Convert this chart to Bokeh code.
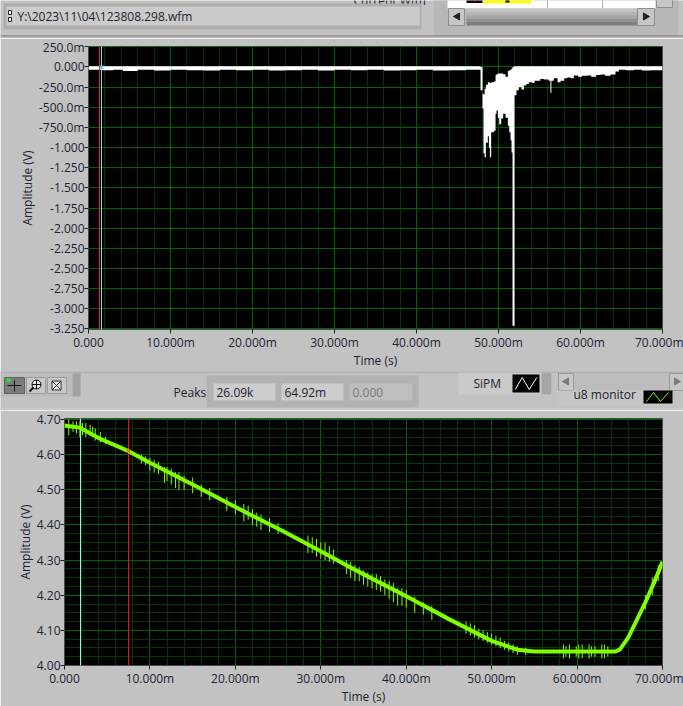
from bokeh.plotting import figure
from bokeh.layouts import column
from bokeh.models import Range1d, FixedTicker
from bokeh.core.properties import value
from bokeh.embed import file_html
from bokeh.resources import INLINE

# ---------- data ----------
FILE_PATH = "Y:\\2023\\11\\04\\123808.298.wfm"
PEAK_VALUES = ["26.09k", "64.92m", "0.000"]

top_x_ticks = [0, 10, 20, 30, 40, 50, 60, 70]
top_x_labels = ["0.000", "10.000m", "20.000m", "30.000m", "40.000m", "50.000m", "60.000m", "70.000m"]
top_x_minor = [2, 4, 6, 8, 12, 14, 16, 18, 22, 24, 26, 28, 32, 34, 36, 38, 42, 44, 46, 48, 52, 54, 56, 58, 62, 64, 66, 68]
top_y_ticks = [0.25, 0, -0.25, -0.5, -0.75, -1, -1.25, -1.5, -1.75, -2, -2.25, -2.5, -2.75, -3, -3.25]
top_y_labels = ["250.0m", "0.000", "-250.0m", "-500.0m", "-750.0m", "-1.000", "-1.250", "-1.500", "-1.750",
                "-2.000", "-2.250", "-2.500", "-2.750", "-3.000", "-3.250"]

bot_x_ticks = [0, 10, 20, 30, 40, 50, 60, 70]
bot_y_ticks = [4.0, 4.1, 4.2, 4.3, 4.4, 4.5, 4.6, 4.7]
bot_y_labels = ["4.00", "4.10", "4.20", "4.30", "4.40", "4.50", "4.60", "4.70"]
bot_y_minor = [4.025, 4.05, 4.075, 4.125, 4.15, 4.175, 4.225, 4.25, 4.275, 4.325, 4.35, 4.375,
               4.425, 4.45, 4.475, 4.525, 4.55, 4.575, 4.625, 4.65, 4.675]

# SiPM trace envelope (ms, V)
env_t = [0, 1.5, 3, 4.2, 6, 8, 10, 12, 14, 16, 18, 20, 22, 24, 26, 28, 30, 32, 34, 36, 38, 40, 42, 44, 46,
         47.69, 47.81, 48.05, 48.17, 48.3, 48.46, 48.7, 48.83, 48.95, 49.11, 49.44, 49.64, 49.76, 49.92, 50.09,
         50.33, 50.57, 50.86, 51.14, 51.31, 51.47, 51.59, 51.71, 51.91, 51.95, 52.2, 52.48, 52.8, 53.09, 53.4,
         53.7, 54.11, 54.4, 54.72, 55.1, 55.53, 56.14, 56.75, 57.2, 57.57, 58.0, 58.38, 58.8, 59.19, 59.7, 60.2,
         60.82, 61.3, 61.9, 62.44, 63.0, 63.66, 64.27, 64.68, 65.5, 66.5, 67.5, 68.5, 70]
env_up = [0.01, 0.01, 0.01, 0.01, 0.01, 0.01, 0.01, 0.01, 0.01, 0.01, 0.01, 0.01, 0.01, 0.01, 0.01, 0.01, 0.01,
          0.01, 0.01, 0.01, 0.01, 0.01, 0.01, 0.01, 0.01,
          0.01, 0.0, -0.33, -0.34, -0.27, -0.22, -0.19, -0.19, -0.2, -0.19, -0.18, -0.1, -0.09, -0.08, -0.08,
          -0.08, -0.09, -0.12, -0.05, -0.04, -0.03, -0.02, 0.0, 0.01, 0.01, 0.01, 0.01, 0.01, 0.01, 0.01,
          0.01, 0.01, 0.01, 0.01, 0.01, 0.01, 0.01, 0.01, 0.01, 0.01, 0.01, 0.01, 0.01, 0.01, 0.01, 0.01,
          0.01, 0.01, 0.01, 0.01, 0.01, 0.01, 0.01, 0.01, 0.01, 0.01, 0.01, 0.01, 0.01]
env_lo = [-0.035, -0.04, -0.035, -0.05, -0.035, -0.045, -0.035, -0.04, -0.045, -0.035, -0.04, -0.035, -0.045, -0.04,
          -0.035, -0.045, -0.035, -0.04, -0.035, -0.045, -0.04, -0.035, -0.045, -0.04, -0.035,
          -0.035, -0.29, -0.515, -1.07, -1.12, -0.94, -0.86, -1.0, -1.12, -0.81, -0.79, -0.58, -0.54, -0.63, -0.71,
          -0.64, -0.58, -0.63, -0.73, -0.81, -0.91, -1.06, -3.21, -3.21, -0.35, -0.29, -0.25, -0.28, -0.23, -0.21,
          -0.19, -0.2, -0.17, -0.17, -0.15, -0.155, -0.17, -0.14, -0.19, -0.17, -0.14, -0.13, -0.14, -0.105, -0.12,
          -0.11, -0.105, -0.12, -0.1, -0.093, -0.11, -0.093, -0.056, -0.035, -0.04, -0.035, -0.045, -0.04, -0.035]
spike_top_t = [56.39]
spike_top_lo = [-0.32]

# u8 monitor trace (ms, V)
mon_t = [0, 1.8, 4.1, 7.5, 10, 15, 19, 21.7, 25.6, 30, 33.4, 38.5, 40, 45, 50, 53, 55, 60, 64.5, 65, 66, 67, 68, 69, 70]
mon_v = [4.683, 4.677, 4.646, 4.61, 4.577, 4.515, 4.464, 4.43, 4.382, 4.325, 4.28, 4.216, 4.197, 4.132,
         4.07, 4.045, 4.04, 4.04, 4.04, 4.045, 4.08, 4.13, 4.18, 4.235, 4.295]
spike_t = [0.5, 1.0, 1.8, 2.5, 3.0, 3.6, 4.2, 4.8, 9.0, 10.0, 11.0, 11.7, 12.5, 13.4, 14.0, 15.0, 19.0, 21.0, 22.0,
           23.0, 24.0, 28.5, 29.5, 30.5, 31.5, 33.0, 34.0, 35.0, 36.0, 37.0, 38.0, 39.0, 40.0, 41.0, 42.0, 47.0, 48.0,
           49.0, 50.0, 51.0, 52.0, 53.0, 54.0, 58.4, 59.1, 59.9, 60.6, 61.4, 62.1, 62.9, 63.6, 68.0, 68.8, 69.5,
           1.4, 2.1, 3.3, 9.5, 10.5, 12.0, 13.0, 16.0, 17.0, 20.0, 21.5, 22.5, 25.0, 29.0, 30.0, 31.0, 33.5, 34.5,
           35.5, 36.5, 37.5, 38.5, 39.5, 43.0, 47.5, 48.5, 49.5, 50.5, 51.5, 52.5, 58.7, 60.2, 61.7, 63.2]
spike_lo = [4.655, 4.665, 4.65, 4.65, 4.655, 4.64, 4.635, 4.63, 4.575, 4.555, 4.545, 4.52, 4.515, 4.50, 4.50, 4.49,
            4.44, 4.41, 4.40, 4.385, 4.38, 4.32, 4.31, 4.30, 4.29, 4.26, 4.24, 4.23, 4.22, 4.21, 4.19, 4.17, 4.165,
            4.15, 4.145, 4.09, 4.08, 4.07, 4.06, 4.05, 4.04, 4.03, 4.03, 4.02, 4.02, 4.025, 4.02, 4.02, 4.025, 4.02,
            4.025, 4.16, 4.20, 4.24,
            4.66, 4.655, 4.65, 4.57, 4.55, 4.525, 4.505, 4.48, 4.47, 4.43, 4.415, 4.395, 4.375, 4.32, 4.305, 4.295,
            4.25, 4.24, 4.225, 4.215, 4.20, 4.18, 4.17, 4.13, 4.085, 4.075, 4.065, 4.055, 4.045, 4.035, 4.025, 4.02,
            4.025, 4.02]
spike_hi = [4.70, 4.695, 4.695, 4.69, 4.685, 4.675, 4.665, 4.65, 4.60, 4.59, 4.58, 4.565, 4.56, 4.55, 4.54, 4.535,
            4.48, 4.46, 4.445, 4.43, 4.42, 4.37, 4.36, 4.35, 4.33, 4.30, 4.285, 4.27, 4.26, 4.255, 4.24, 4.22, 4.215,
            4.195, 4.18, 4.125, 4.115, 4.10, 4.09, 4.08, 4.065, 4.055, 4.05, 4.06, 4.06, 4.055, 4.06, 4.06, 4.055,
            4.06, 4.055, 4.20, 4.25, 4.285,
            4.695, 4.69, 4.68, 4.595, 4.585, 4.565, 4.55, 4.515, 4.505, 4.47, 4.455, 4.435, 4.405, 4.365, 4.35, 4.34,
            4.295, 4.28, 4.265, 4.26, 4.245, 4.235, 4.22, 4.17, 4.12, 4.105, 4.095, 4.085, 4.07, 4.06, 4.055, 4.06,
            4.055, 4.06]

# cursors (ms)
top_red, top_cyan, top_cursor_v = 1.34, 1.585, 0.0
bot_cyan, bot_red, bot_cursor_v = 1.87, 7.49, 4.61

# ---------- styling ----------
BG = "#c2c2c2"
FONT = "Open Sans"
TXT = "#1c2433"
MAJOR = "#006400"
MINOR = "#003800"


def chrome(y0, y1):
    p = figure(width=683, height=y1 - y0, x_range=Range1d(0, 683), y_range=Range1d(y1, y0),
               toolbar_location=None, output_backend="svg", min_border=0, frame_align=False,
               background_fill_color=BG, border_fill_color=BG, outline_line_color=None)
    p.axis.visible = False
    p.grid.visible = False
    return p


def rect(p, x0, y0, x1, y1, fill, line=None):
    p.quad(left=[x0], right=[x1], top=[y0], bottom=[y1], fill_color=fill, line_color=line)


def label(p, x, y, s, color=TXT, size="12px", align="left"):
    p.text(x=[x], y=[y], text=[s], text_color=color, text_font=value(FONT), text_font_size=size,
           text_baseline="middle", text_align=align)


def zigzag(p, x0, y0, x1, y1, color):
    w = x1 - x0
    p.line([x0 + w * .1, x0 + w * .36, x0 + w * .62, x0 + w * .9], [y1 - 3, y0 + 3, y1 - 3, y0 + 3],
           line_color=color, line_width=1)


# ---------- header strip ----------
h = chrome(0, 38)
label(h, 353, 0, "Current Wfm", size="12px")
rect(h, 3, 3, 421, 29, "#aeaeae")
rect(h, 6, 6, 419, 25, "#cbcbcb")
rect(h, 8, 10, 11, 14, "#ffffff", "#222222")
rect(h, 8, 17, 11, 21, "#ffffff", "#222222")
label(h, 17, 16, FILE_PATH, size="12px", color="#20242c")
rect(h, 433, -1, 678, 36, "#b8b8b8")
rect(h, 447, -1, 655, 8, "#ffffff")
rect(h, 466, -1, 482, 2.5, "#000000")
rect(h, 473.5, -1, 474.5, 2.5, "#dd0000")
rect(h, 483, -1, 531, 3, "#ffff00")
rect(h, 505, -1, 509, 2, "#000000")
h.segment([547, 602], [-1, -1], [547, 602], [8, 8], line_color="#b0b0b0")
rect(h, 448, 8, 464, 25, "#c6c6c6", "#8e8e8e")
h.scatter([457], [16], marker="triangle", size=7, angle=1.5708, color="#222222")
for i, col in enumerate(["#c4c4c4", "#b6b6b6", "#a4a4a4", "#909090", "#7e7e7e"]):
    rect(h, 466, 8 + i * 3.4, 637, 8 + (i + 1) * 3.4, col)
rect(h, 637, 8, 654, 25, "#c6c6c6", "#8e8e8e")
h.scatter([645], [16], marker="triangle", size=7, angle=-1.5708, color="#222222")
rect(h, 656, -1, 672, 7, "#c6c6c6", "#8e8e8e")
h.segment([0], [35.5], [683], [35.5], line_color="#9a9a9a", line_width=2)

# ---------- SiPM plot ----------
p1 = figure(x_range=Range1d(0, 70), y_range=Range1d(-3.257, 0.254), frame_width=574, frame_height=283,
            min_border_left=88, min_border_right=21, min_border_top=8, min_border_bottom=42, frame_align=False,
            toolbar_location=None, output_backend="svg", background_fill_color="#000000",
            border_fill_color=BG, outline_line_color="#4a4a4a")
p1.xaxis.ticker = FixedTicker(ticks=top_x_ticks, minor_ticks=[])
p1.xaxis.major_label_overrides = dict(zip(top_x_ticks, top_x_labels))
p1.yaxis.ticker = FixedTicker(ticks=top_y_ticks, minor_ticks=[])
p1.yaxis.major_label_overrides = dict(zip(top_y_ticks, top_y_labels))
p1.xgrid.ticker = FixedTicker(ticks=top_x_ticks, minor_ticks=top_x_minor)
p1.ygrid.ticker = FixedTicker(ticks=top_y_ticks, minor_ticks=[])
p1.xaxis.axis_label = "Time (s)"
p1.yaxis.axis_label = "Amplitude (V)"

p1.varea_step(env_t, env_up, env_lo, step_mode="after", fill_color="#ffffff")
p1.segment(spike_top_t, [0] * len(spike_top_t), spike_top_t, spike_top_lo, line_color="#ffffff", line_width=1)
p1.ray([top_red], [-4], length=0, angle=1.5708, line_color="#ff2020", line_width=1)
p1.ray([top_cyan], [-4], length=0, angle=1.5708, line_color="#70e0ff", line_width=1)
p1.scatter([top_cyan], [top_cursor_v], marker="x", size=6, line_color="#30a8ff")

# ---------- middle strip ----------
m = chrome(371, 410)
m.segment([0], [371], [683], [371], line_color="#9a9a9a", line_width=2)
rect(m, 0, 373, 80, 396, "#bcbcbc")
rect(m, 72, 373, 80, 396, "#a2a2a2")
rect(m, 4, 377, 24, 393, "#7c7c7c", "#606060")
rect(m, 26, 377, 45, 393, "#c8c8c8", "#9a9a9a")
rect(m, 47, 377, 66, 393, "#c8c8c8", "#9a9a9a")
m.segment([7, 14], [385, 380], [21, 14], [385, 391], line_color="#101010")
m.scatter([8], [380], marker="square", size=3, color="#30e030")
m.scatter([36], [384], marker="circle_cross", size=9, fill_color="#e8e8e8", line_color="#101010")
m.segment([29], [391], [33], [387], line_color="#101010", line_width=2)
m.scatter([56], [385], marker="square_x", size=9, fill_color="#e8e8e8", line_color="#303030")
label(m, 173, 392, "Peaks")
rect(m, 206, 375, 418, 407, "#b2b2b2")
for x0, x1, s, c in [(213, 275, PEAK_VALUES[0], TXT), (281, 343, PEAK_VALUES[1], TXT), (349, 412, PEAK_VALUES[2], "#787878")]:
    rect(m, x0, 383, x1, 400, "#cccccc" if c == TXT else "#bebebe")
    label(m, x0 + 3, 392, s, color=c)
rect(m, 458, 372, 551, 394, "#cacaca")
rect(m, 541, 372, 551, 394, "#a6a6a6")
label(m, 473, 383, "SiPM")
rect(m, 512, 374, 539, 392, "#000000")
zigzag(m, 512, 374, 539, 392, "#ffffff")
rect(m, 558, 373, 683, 390, "#bdbdbd")
rect(m, 558, 373, 573, 390, "#c6c6c6", "#9a9a9a")
m.scatter([566], [381], marker="triangle", size=7, angle=1.5708, color="#7a7a7a")
rect(m, 669, 373, 684, 390, "#c6c6c6", "#9a9a9a")
m.scatter([676], [381], marker="triangle", size=7, angle=-1.5708, color="#7a7a7a")
rect(m, 558, 390, 672, 405, "#c6c6c6")
label(m, 573, 394, "u8 monitor")
rect(m, 643, 390, 672, 403, "#000000")
m.line([646, 653, 660, 668], [401, 392, 401, 392], line_color="#80ff00", line_width=1)
m.segment([0], [408.5], [683], [408.5], line_color="#d0d0d0", line_width=1)

# ---------- u8 monitor plot ----------
p2 = figure(x_range=Range1d(0, 70), y_range=Range1d(4.0, 4.703), frame_width=598, frame_height=247,
            min_border_left=64, min_border_right=21, min_border_top=8, min_border_bottom=41, frame_align=False,
            toolbar_location=None, output_backend="svg", background_fill_color="#000000",
            border_fill_color=BG, outline_line_color="#4a4a4a")
p2.xaxis.ticker = FixedTicker(ticks=bot_x_ticks, minor_ticks=[])
p2.xaxis.major_label_overrides = dict(zip(top_x_ticks, top_x_labels))
p2.yaxis.ticker = FixedTicker(ticks=bot_y_ticks, minor_ticks=[])
p2.yaxis.major_label_overrides = dict(zip(bot_y_ticks, bot_y_labels))
p2.xgrid.ticker = FixedTicker(ticks=bot_x_ticks, minor_ticks=top_x_minor)
p2.ygrid.ticker = FixedTicker(ticks=bot_y_ticks, minor_ticks=bot_y_minor)
p2.xaxis.axis_label = "Time (s)"
p2.yaxis.axis_label = "Amplitude (V)"

p2.ray([bot_cyan], [3.9], length=0, angle=1.5708, line_color="#a0f4ff", line_width=1)
p2.ray([bot_red], [3.9], length=0, angle=1.5708, line_color="#ff1010", line_width=1)
p2.segment(spike_t, spike_lo, spike_t, spike_hi, line_color="#80ff00", line_width=1)
p2.line(mon_t, mon_v, line_color="#80ff00", line_width=4)
p2.scatter([bot_red], [bot_cursor_v], marker="x", size=7, line_color="#ff2020")

for p in (p1, p2):
    p.xgrid.grid_line_color = MAJOR
    p.ygrid.grid_line_color = MAJOR
    p.xgrid.minor_grid_line_color = MINOR
    p.ygrid.minor_grid_line_color = MINOR
    p.xgrid.level = "underlay"
    for ax in (p.xaxis[0], p.yaxis[0]):
        ax.axis_line_color = None
        ax.major_tick_in = 0
        ax.major_tick_out = 4
        ax.major_tick_line_color = "#222222"
        ax.minor_tick_line_color = None
        ax.major_label_text_font = FONT
        ax.major_label_text_font_size = "12px"
        ax.major_label_text_color = TXT
        ax.major_label_standoff = 0
        ax.axis_label_text_font = FONT
        ax.axis_label_text_font_size = "12px"
        ax.axis_label_text_font_style = "normal"
        ax.axis_label_text_color = TXT
        ax.axis_label_standoff = 0
    p.xaxis[0].axis_label_standoff = -2

layout = column(h, p1, m, p2, spacing=0, margin=0)
open("out.html", "w").write(file_html(layout, INLINE))
